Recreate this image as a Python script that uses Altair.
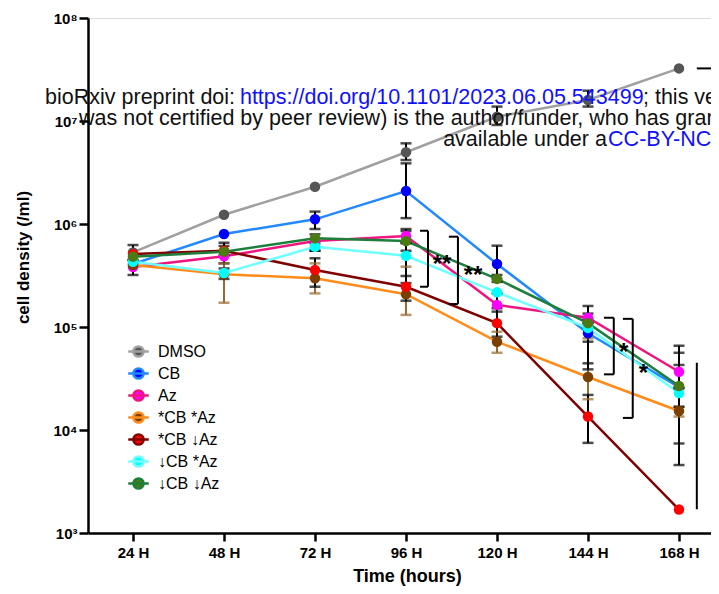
import altair as alt
import pandas as pd

# ---------------- data ----------------
hours = [24, 48, 72, 96, 120, 144, 168]
series = ["DMSO", "CB", "Az", "*CB *Az", "*CB \u2193Az", "\u2193CB *Az", "\u2193CB \u2193Az"]

values = {
    "DMSO": [5.3e5, 1.23e6, 2.3e6, 4.97e6, 1.10e7, 1.60e7, 3.24e7],
    "CB": [4.09e5, 8.0e5, 1.11e6, 2.09e6, 4.09e5, 8.69e4, 2.61e4],
    "Az": [3.83e5, 4.86e5, 6.84e5, 7.64e5, 1.64e5, 1.23e5, 3.68e4],
    "*CB *Az": [4.0e5, 3.25e5, 2.97e5, 2.08e5, 7.2e4, 3.27e4, 1.53e4],
    "*CB \u2193Az": [5.1e5, 5.5e5, 3.57e5, 2.46e5, 1.09e5, 1.35e4, 1.69e3],
    "\u2193CB *Az": [4.3e5, 3.34e5, 6.02e5, 4.92e5, 2.17e5, 9.8e4, 2.29e4],
    "\u2193CB \u2193Az": [4.82e5, 5.38e5, 7.26e5, 6.84e5, 2.93e5, 1.09e5, 2.67e4],
}
err_low = {
    "DMSO": [4.47e5, None, None, 4.18e6, 9.15e6, 1.38e7, None],
    "CB": [None, None, 8.94e5, 1.14e6, 2.93e5, 7.2e4, 7.4e3],
    "Az": [3.2e5, 4.15e5, 5.5e5, 6.54e5, 1.41e5, 1.09e5, 2.56e4],
    "*CB *Az": [None, 1.72e5, 2.12e5, 1.31e5, 5.62e4, 1.99e4, 1.35e4],
    "*CB \u2193Az": [None, 5.0e5, 2.46e5, 1.80e5, 8.05e4, 7.5e3, None],
    "\u2193CB *Az": [None, 2.93e5, 5.5e5, 2.67e5, None, 4.44e4, 4.57e3],
    "\u2193CB \u2193Az": [None, None, None, 5.5e5, 2.74e5, 3.88e4, 1.68e4],
}
err_high = {
    "DMSO": [6.25e5, None, None, 6.07e6, 1.38e7, 1.97e7, None],
    "CB": [None, None, 1.32e6, 3.88e6, 6.16e5, 1.09e5, 5.62e4],
    "Az": [4.47e5, 6.12e5, 7.94e5, 8.94e5, 2.12e5, 1.60e5, 6.58e4],
    "*CB *Az": [None, 4.15e5, 4.15e5, 3.85e5, 9.0e4, 7.76e4, 1.68e4],
    "*CB \u2193Az": [None, 6.58e5, 4.65e5, 3.13e5, 1.52e5, 2.19e4, None],
    "\u2193CB *Az": [None, 3.7e5, 6.5e5, 6.54e5, None, 1.20e5, 2.56e4],
    "\u2193CB \u2193Az": [None, None, None, 8.55e5, 3.2e5, 1.35e5, 4.28e4],
}
line_colors = ["#a0a0a0", "#2288ff", "#f0147f", "#ff8c1a", "#800000", "#70ffff", "#1d7f3b"]
marker_colors = ["#555555", "#0000ff", "#ff00ff", "#7a4000", "#ff0000", "#00ffff", "#4b7a12"]

# significance brackets: (x_left, x_right, y_top, y_bottom)
brackets = [
    (99.7, 101.8, 8.6e5, 2.46e5),
    (107.3, 109.7, 7.53e5, 1.67e5),
    (148.2, 150.8, 1.23e5, 3.47e4),
    (153.2, 155.8, 1.20e5, 1.31e4),
]
stars = [("**", 105.5, 4.57e5), ("**", 113.7, 3.57e5), ("*", 153.4, 6.44e4), ("*", 158.6, 4.0e4)]

# ---------------- tables ----------------
rows, err_rows, cap_rows = [], [], []
for s in series:
    for i, h in enumerate(hours):
        rows.append({"series": s, "hours": h, "value": values[s][i]})
        lo, hi = err_low[s][i], err_high[s][i]
        if lo is not None:
            err_rows.append({"series": s, "hours": h, "lo": lo, "hi": hi})
            cap_rows.append({"series": s, "hours": h, "cap": lo})
            cap_rows.append({"series": s, "hours": h, "cap": hi})
df = pd.DataFrame(rows)
edf = pd.DataFrame(err_rows)
cdf = pd.DataFrame(cap_rows)

br_rows = []
for xl, xr, yt, yb in brackets:
    br_rows.append({"x": xr, "x2": xr, "y": yb, "y2": yt})
    br_rows.append({"x": xl, "x2": xr, "y": yt, "y2": yt})
    br_rows.append({"x": xl, "x2": xr, "y": yb, "y2": yb})
# other annotation strokes at the right edge
br_rows.append({"x": 172.7, "x2": 172.7, "y": 1.70e3, "y2": 4.5e4})
br_rows.append({"x": 172.7, "x2": 178.3, "y": 3.24e7, "y2": 3.24e7})
bdf = pd.DataFrame(br_rows)
sdf = pd.DataFrame(stars, columns=["t", "x", "y"])

FONT = "Liberation Sans, Arial, Helvetica, sans-serif"
xscale = alt.Scale(domain=[12.13, 176.44], nice=False, zero=False)
yscale = alt.Scale(type="log", domain=[1e3, 1e8], nice=False)

sup = "['\u2070','\u00b9','\u00b2','\u00b3','\u2074','\u2075','\u2076','\u2077','\u2078']"
x_axis = alt.Axis(values=hours, labelExpr="datum.value + ' H'", title="Time (hours)",
                  grid=False, tickSize=8, tickWidth=2.5, domainWidth=2.5, domainColor="black",
                  tickColor="black", labelFontSize=15, labelFontWeight="bold", labelColor="black",
                  labelFont=FONT, labelPadding=4, titleFont=FONT, titleFontSize=18,
                  titleFontWeight="bold", titleColor="black", titlePadding=7, titleX=319)
y_axis = alt.Axis(values=[1e3, 1e4, 1e5, 1e6, 1e7, 1e8],
                  labelExpr="'10' + " + sup + "[round(log(datum.value)/LN10)]",
                  title="cell density (/ml)", grid=False, tickSize=9, tickWidth=2.5,
                  domainWidth=2.5, domainColor="black", tickColor="black", labelFontSize=15,
                  labelFontWeight="bold", labelColor="black", labelFont=FONT, labelPadding=2,
                  titleFont=FONT, titleFontSize=17, titleFontWeight="bold", titleColor="black",
                  titleX=-60, titleY=239, titleBaseline="alphabetic", titleAngle=270)

legend_path = "M-1,0L1,0M-0.5,0A0.5,0.5,0,1,0,0.5,0A0.5,0.5,0,1,0,-0.5,0Z"
leg = alt.Legend(orient="none", legendX=39, legendY=322, title=None, symbolType=legend_path,
                 symbolSize=420, symbolStrokeWidth=2.5, labelFontSize=16, labelFont=FONT,
                 labelColor="black", labelOffset=8, rowPadding=0, padding=0)

base = alt.Chart(df)
lines = base.mark_line(strokeWidth=2.5).encode(
    x=alt.X("hours:Q", scale=xscale, axis=x_axis),
    y=alt.Y("value:Q", scale=yscale, axis=y_axis),
    stroke=alt.Stroke("series:N", scale=alt.Scale(domain=series, range=line_colors), legend=leg),
    order="hours:Q",
)
errs = alt.Chart(edf).mark_rule(strokeWidth=2).encode(
    x="hours:Q", y="lo:Q", y2="hi:Q",
    color=alt.condition(alt.datum.series == "*CB *Az", alt.value("#9a6a30"), alt.value("black")),
)
caps = alt.Chart(cdf).mark_tick(orient="horizontal", size=11, thickness=2.5).encode(
    x="hours:Q", y="cap:Q",
    color=alt.condition(alt.datum.series == "*CB *Az", alt.value("#9a6a30"), alt.value("black")),
)
pts = base.mark_circle(size=110, opacity=1).encode(
    x="hours:Q", y="value:Q",
    fill=alt.Fill("series:N", scale=alt.Scale(domain=series, range=marker_colors), legend=leg),
)
ann = alt.Chart(bdf).mark_rule(strokeWidth=2, color="black").encode(
    x="x:Q", x2="x2:Q", y="y:Q", y2="y2:Q")
startxt = alt.Chart(sdf).mark_text(font=FONT, fontSize=24, fontWeight="bold", color="black",
                                   align="center", baseline="middle", dy=6).encode(
    x="x:Q", y="y:Q", text="t:N")

# bioRxiv header overlay lines (x in hours, y in density)
hdr = pd.DataFrame([
    {"t": "bioRxiv preprint doi: ", "x": 0.8, "y": 1.66e7, "c": "black"},
    {"t": "https://doi.org/10.1101/2023.06.05.543499", "x": 52.2, "y": 1.66e7, "c": "blue"},
    {"t": "; this version posted June 6, 2023.", "x": 158.5, "y": 1.66e7, "c": "black"},
    {"t": "was not certified by peer review) is the author/funder, who has granted bioRxiv", "x": 9.76, "y": 1.04e7, "c": "black"},
    {"t": "available under a", "x": 105.8, "y": 6.5e6, "c": "black"},
    {"t": "CC-BY-NC-ND 4.0 International license", "x": 149.3, "y": 6.5e6, "c": "blue"},
])
hdrtxt = alt.Chart(hdr).mark_text(font=FONT, fontSize=21.5, align="left", baseline="middle").encode(
    x="x:Q", y="y:Q", text="t:N",
    color=alt.condition(alt.datum.c == "blue", alt.value("#1010ff"), alt.value("#111111")))

chart = alt.layer(lines, errs, caps, pts, ann, startxt, hdrtxt).properties(
    width=623, height=515, autosize="none",
    padding={"left": 80, "top": 10, "right": 0, "bottom": 53},
).configure_view(stroke=None).configure(background="white")

chart.save("out.html", embed_options={"renderer": "svg", "actions": False})
